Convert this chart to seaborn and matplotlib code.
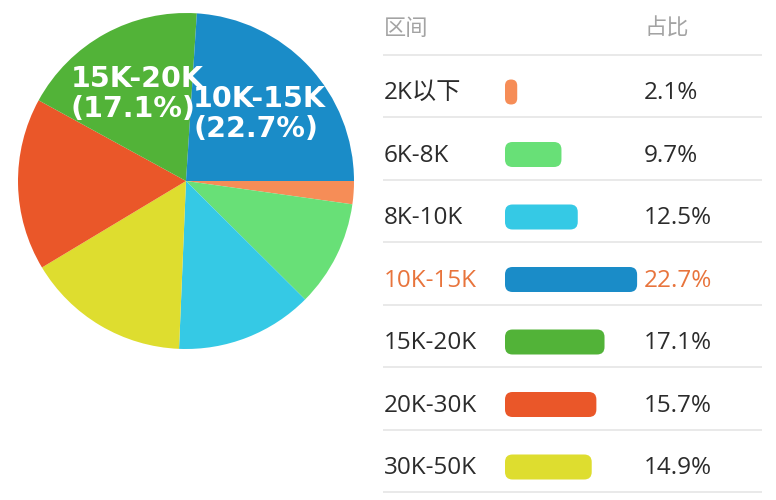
import matplotlib
matplotlib.use("Agg")
import matplotlib.pyplot as plt
from matplotlib.patches import FancyBboxPatch
import seaborn as sns
import numpy as np
import pandas as pd

# ---- data ----
categories = ["2K以下", "6K-8K", "8K-10K", "10K-15K", "15K-20K", "20K-30K", "30K-50K"]
values = [2.1, 9.7, 12.5, 22.7, 17.1, 15.7, 14.9]
colors = ["#F68D57", "#68E077", "#35C9E5", "#1A8CC8", "#52B338", "#EA5729", "#DEDD2F"]
pie_order = ["2K以下", "6K-8K", "8K-10K", "30K-50K", "20K-30K", "15K-20K", "10K-15K"]
pie_labeled = ["15K-20K", "10K-15K"]
highlight = "10K-15K"
header = ["区间", "占比"]

sns.set_style("white")
plt.rcParams["font.family"] = ["Open Sans", "Noto Sans CJK SC", "DejaVu Sans"]

W, H = 776, 500
fig = plt.figure(figsize=(W / 100, H / 100), dpi=100)
fig.patch.set_facecolor("white")

# ---- pie ----
cx, cy, R = 186, 181, 168
ax_pie = fig.add_axes([(cx - R) / W, (H - cy - R) / H, 2 * R / W, 2 * R / H])
cmap = dict(zip(categories, colors))
vmap = dict(zip(categories, values))
pv = [vmap[c] for c in pie_order]
pc = [cmap[c] for c in pie_order]
wedges, _ = ax_pie.pie(pv, colors=pc, startangle=0, counterclock=False,
                       radius=1, wedgeprops=dict(linewidth=0))
for w, c in zip(wedges, pie_order):
    if c in pie_labeled:
        ang = np.deg2rad((w.theta1 + w.theta2) / 2)
        ax_pie.text(0.6 * np.cos(ang), 0.6 * np.sin(ang) - 0.01,
                    f"{c}\n({vmap[c]:.1f}%)", ha="center", va="center",
                    multialignment="left", color="white", fontsize=20.5,
                    fontweight="bold", family="DejaVu Sans", linespacing=1.1)
ax_pie.set_xlim(-1, 1)
ax_pie.set_ylim(-1, 1)
ax_pie.set_aspect("equal")
ax_pie.axis("off")

# ---- table with bars ----
x0_px, x1_px = 370, 776
bar0_px = 505
pxu = 5.82  # pixels per percent
row0_px, row_h = 92, 62.5
ax_t = fig.add_axes([x0_px / W, 0, (x1_px - x0_px) / W, 1])
df = pd.DataFrame({"cat": categories, "val": values})
sns.barplot(data=df, x="val", y="cat", hue="cat", palette=colors, order=categories,
            hue_order=categories, orient="h", width=0.4, saturation=1,
            legend=False, ax=ax_t)

def px2x(p):
    return (p - bar0_px) / pxu

ax_t.set_xlim(px2x(x0_px), px2x(x1_px))
ax_t.set_ylim((H - row0_px) / row_h, -row0_px / row_h)

# rounded bars
y_per_px = 1 / row_h
x_per_px = 1 / pxu
for p in list(ax_t.patches):
    x, y, w, h = p.get_x(), p.get_y(), p.get_width(), p.get_height()
    fc = p.get_facecolor()
    p.remove()
    w_px = w / x_per_px
    r_px = min(7.5, w_px / 2)
    ax_t.add_patch(FancyBboxPatch((x, y), w, h,
                                  boxstyle=f"round,pad=0,rounding_size={r_px * x_per_px}",
                                  mutation_aspect=y_per_px / x_per_px,
                                  facecolor=fc, edgecolor="none"))

ax_t.axis("off")

fs = 17.5
label_x = px2x(384)
val_x = px2x(644)
ax_t.text(label_x, -1.0, header[0], ha="left", va="center", fontsize=16, color="#A3A3A3")
ax_t.text(val_x, -1.0, header[1], ha="left", va="center", fontsize=16, color="#A3A3A3")
for i, (c, v) in enumerate(zip(categories, values)):
    col = "#E8743C" if c == highlight else "#2B2B2B"
    ax_t.text(label_x, i + 0.02, c, ha="left", va="center", fontsize=fs, color=col)
    ax_t.text(val_x, i + 0.02, f"{v:.1f}%", ha="left", va="center", fontsize=fs, color=col)

for i in range(-1, len(categories)):
    ax_t.plot([px2x(383), px2x(762)], [i + 0.4, i + 0.4], color="#E3E3E3", lw=1.1,
              solid_capstyle="butt")

fig.savefig("out.png", dpi=100, facecolor="white")
